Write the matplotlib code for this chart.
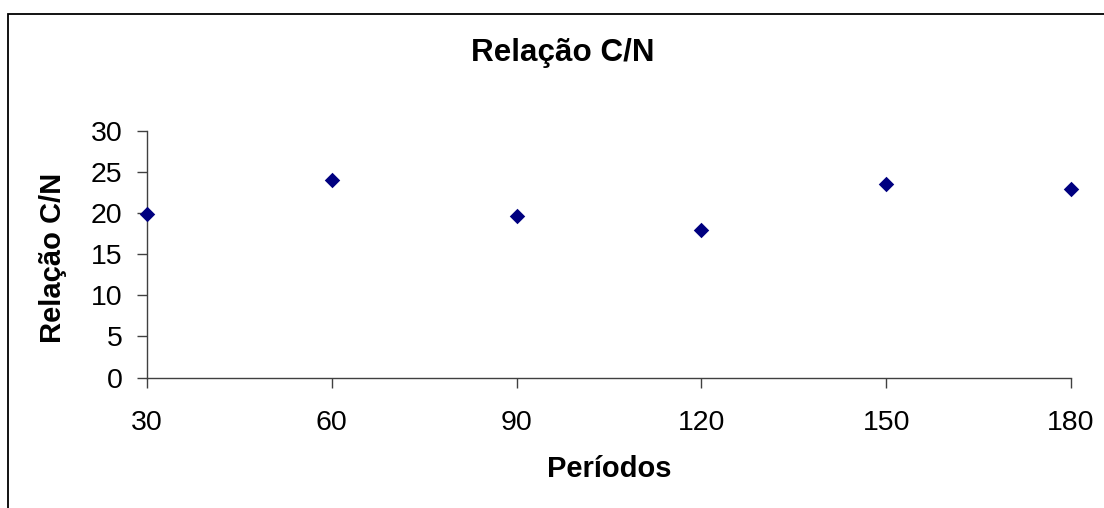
import matplotlib
matplotlib.use("Agg")
import matplotlib.pyplot as plt
from matplotlib.patches import Rectangle

periodos = [30, 60, 90, 120, 150, 180]
relacao_cn = [19.9, 24.0, 19.7, 18.0, 23.5, 23.0]
x_ticks = [30, 60, 90, 120, 150, 180]
y_ticks = [0, 5, 10, 15, 20, 25, 30]

plt.rcParams['font.family'] = ['Liberation Sans', 'DejaVu Sans']

W, H = 1104, 508
fig = plt.figure(figsize=(W / 100, H / 100), dpi=100)
fig.patch.set_facecolor('white')

# outer chart frame (left and top visible, extends past right/bottom)
fig.patches.append(Rectangle((8 / W, -0.1), 1.2, 1 - 14 / H + 0.1,
                             transform=fig.transFigure, fill=False,
                             edgecolor='black', linewidth=1.3))

ax = fig.add_axes([147 / W, 1 - 377.5 / H, (1071 - 147) / W, (377.5 - 131) / H])
ax.scatter(periodos, relacao_cn, marker='D', s=62, color='#000080',
           edgecolors='#000080', linewidths=0, zorder=3, clip_on=False)

ax.set_xlim(30, 180)
ax.set_ylim(0, 30)
ax.set_xticks(x_ticks)
ax.set_yticks(y_ticks)
for s in ['top', 'right']:
    ax.spines[s].set_visible(False)
for s in ['left', 'bottom']:
    ax.spines[s].set_color('#404040')
    ax.spines[s].set_linewidth(1.0)
ax.tick_params(axis='both', direction='out', length=7.5, width=1.0,
               color='#404040', labelsize=20.5, labelcolor='black')
ax.tick_params(axis='y', pad=10)
ax.tick_params(axis='x', pad=16)

fig.text(563 / W, 1 - 61 / H, 'Relação C/N', ha='center', va='baseline',
         fontsize=22.6, fontweight='bold')
fig.text(609 / W, 1 - 477 / H, 'Períodos', ha='center', va='baseline',
         fontsize=21, fontweight='bold')
fig.text(53 / W, 1 - 258 / H, 'Relação C/N', ha='center', va='center',
         rotation=90, fontsize=21, fontweight='bold')

fig.savefig('out.png', dpi=100, facecolor='white')
